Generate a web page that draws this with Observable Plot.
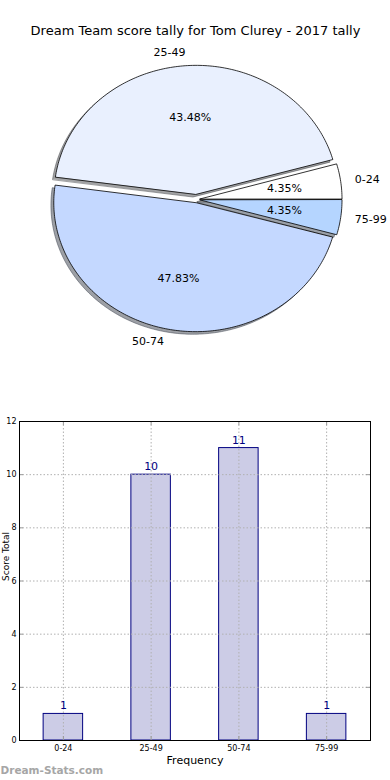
<!DOCTYPE html>
<html><head><meta charset="utf-8">
<script src="https://cdn.jsdelivr.net/npm/d3@7"></script>
<script src="https://cdn.jsdelivr.net/npm/@observablehq/plot@0.6"></script>
<style>
body{margin:0;background:#fff;font-family:"DejaVu Sans",sans-serif}
#c{position:relative;width:390px;height:780px;overflow:hidden}
#c svg{display:block;overflow:visible}
</style></head><body><div id="c"></div>
<script>
const title = "Dream Team score tally for Tom Clurey - 2017 tally";
const categories = ["0-24", "25-49", "50-74", "75-99"];
const counts = [1, 10, 11, 1];
const pieColors = ["#ffffff", "#e9f0fe", "#c4d8ff", "#b5d5ff"];
const explode = [0.025, 0.04, 0.025, 0.025];
const yTicks = [0, 2, 4, 6, 8, 10, 12];
const xLabel = "Frequency";
const yLabel = "Score Total";
const watermark = "Dream-Stats.com";

// ---- pie geometry (matplotlib-style: start at 0°, counter-clockwise) ----
const total = d3.sum(counts);
let acc = 0;
const slices = counts.map((c, i) => {
  const a0 = acc / total * 2 * Math.PI; acc += c;
  const a1 = acc / total * 2 * Math.PI;
  const am = (a0 + a1) / 2;
  const ox = explode[i] * Math.cos(am), oy = explode[i] * Math.sin(am);
  const n = Math.max(4, Math.ceil((a1 - a0) / (Math.PI / 180)));
  const pts = [{x: ox, y: oy}];
  for (let k = 0; k <= n; k++) {
    const a = a0 + (a1 - a0) * k / n;
    pts.push({x: ox + Math.cos(a), y: oy + Math.sin(a)});
  }
  const rgb = d3.rgb(pieColors[i]);
  const shadow = d3.rgb(rgb.r * 0.3, rgb.g * 0.3, rgb.b * 0.3).formatHex();
  return {cat: categories[i], count: c, color: pieColors[i], shadow, am, ox, oy, pts,
          pct: (c / total * 100).toFixed(2) + "%",
          lx: ox + 1.1 * Math.cos(am), ly: oy + 1.1 * Math.sin(am),
          px: ox + 0.6 * Math.cos(am), py: oy + 0.6 * Math.sin(am)};
});

const pie = Plot.plot({
  width: 390, height: 390, margin: 0,
  x: {domain: [-196 / 142, 194 / 142], axis: null},
  y: {domain: [-191 / 129, 199 / 129], axis: null},
  style: {fontFamily: "DejaVu Sans", background: "transparent", overflow: "visible"},
  marks: [
    ...slices.map(s => Plot.line(s.pts, {x: d => d.x - 0.02, y: d => d.y - 0.02, curve: "linear-closed",
      fill: s.shadow, fillOpacity: 0.5, stroke: s.shadow, strokeOpacity: 0.5, strokeWidth: 1})),
    ...slices.map(s => Plot.line(s.pts, {x: "x", y: "y", curve: "linear-closed",
      fill: s.color, stroke: "black", strokeWidth: 0.8})),
    Plot.text(slices.filter(s => s.lx >= 0), {x: "lx", y: "ly", text: "cat", textAnchor: "start", fontSize: 11, fill: "black"}),
    Plot.text(slices.filter(s => s.lx < 0), {x: "lx", y: "ly", text: "cat", textAnchor: "end", fontSize: 11, fill: "black"}),
    Plot.text(slices, {x: "px", y: "py", text: "pct", fontSize: 11, fill: "black"}),
    Plot.text([title], {frameAnchor: "top", dy: 30, lineAnchor: "middle", fontSize: 13, fill: "black"})
  ]
});

// ---- bar chart ----
const bars = categories.map((c, i) => ({i, cat: c, count: counts[i]}));
const barW = 0.45;
const pxX = 351 / 4, pxY = 319 / 12;
const bar = Plot.plot({
  width: 390, height: 390, marginTop: 31, marginBottom: 40, marginLeft: 19, marginRight: 20,
  x: {domain: [-0.5, 3.5]},
  y: {domain: [0, 12]},
  style: {fontFamily: "DejaVu Sans", background: "transparent", overflow: "visible"},
  marks: [
    Plot.rect(bars, {x1: d => d.i - barW / 2, x2: d => d.i + barW / 2, y1: d => 0, y2: "count",
      fill: "#ccccе6".replace("е", "e"), stroke: "#000080", strokeWidth: 1}),
    Plot.gridX([0, 1, 2, 3], {stroke: "#b0b0b0", strokeOpacity: 1, strokeDasharray: "1.5,2"}),
    Plot.gridY(yTicks.slice(1, -1), {stroke: "#b0b0b0", strokeOpacity: 1, strokeDasharray: "1.5,2"}),
    Plot.ruleY(yTicks, {x1: -0.5, x2: -0.5 + 4 / pxX, stroke: "#999"}),
    Plot.ruleY(yTicks, {x1: 3.5 - 4 / pxX, x2: 3.5, stroke: "#999"}),
    Plot.ruleX([0, 1, 2, 3], {y1: 0, y2: 4 / pxY, stroke: "#999"}),
    Plot.ruleX([0, 1, 2, 3], {y1: 12 - 4 / pxY, y2: 12, stroke: "#999"}),
    Plot.text(bars, {x: "i", y: "count", text: d => String(d.count), dy: -8, fill: "#000080", fontSize: 11}),
    Plot.axisY(yTicks, {tickSize: 0, tickPadding: 3, fontSize: 8, label: null, fill: "black"}),
    Plot.axisX([0, 1, 2, 3], {tickFormat: i => categories[i], tickSize: 0, tickPadding: 5, fontSize: 8, label: null, fill: "black"}),
    Plot.frame({stroke: "black", strokeWidth: 1}),
    Plot.text([xLabel], {frameAnchor: "bottom", dy: 20, lineAnchor: "middle", fontSize: 11, fill: "black"}),
    Plot.text([yLabel], {frameAnchor: "left", dx: -13, lineAnchor: "middle", rotate: -90, fontSize: 9, fill: "black"}),
    Plot.text([watermark], {frameAnchor: "bottom-left", dx: -19, dy: 30, lineAnchor: "middle", textAnchor: "start",
      fontSize: 10.5, fontWeight: "bold", fill: "#a6a6a6"})
  ]
});

const c = document.getElementById("c");
c.appendChild(pie);
c.appendChild(bar);
</script></body></html>
